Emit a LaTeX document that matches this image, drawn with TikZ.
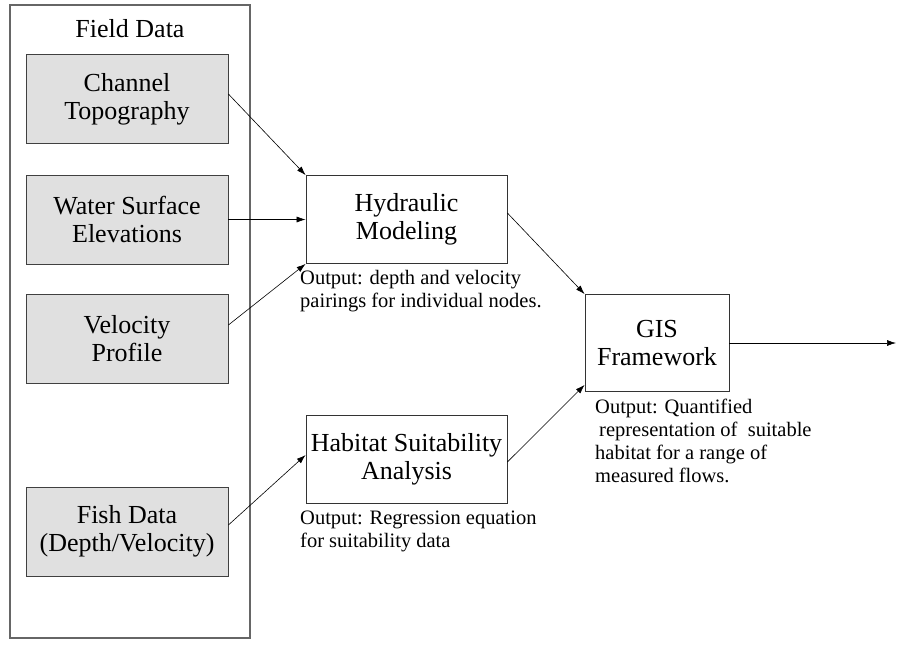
\documentclass[tikz,border=0pt]{standalone}
\usepackage{fontspec}
\setmainfont{Liberation Serif}
\usetikzlibrary{arrows.meta}
\tikzset{
  outerbox/.style={draw=black!60, line width=1.2pt, minimum width=240pt, minimum height=633pt, inner sep=0pt},
  databox/.style={draw=black!75, line width=0.8pt, fill=black!12, minimum width=202pt, minimum height=89pt, align=center, inner sep=0pt, font=\fontsize{26}{28}\selectfont},
  procbox/.style={draw=black!80, line width=0.8pt, fill=white, minimum width=201pt, minimum height=88pt, align=center, inner sep=0pt, font=\fontsize{26}{28}\selectfont},
  outtext/.style={anchor=north west, align=left, inner sep=0pt, font=\fontsize{20.5}{23}\selectfont},
  conn/.style={-{Latex[length=9pt,width=6pt]}, line width=0.6pt, black}
}
\begin{document}
\begin{tikzpicture}[x=1pt,y=-1pt]
\useasboundingbox (0,0) rectangle (899,645);
\node[outerbox] (outer) at (130,321.5) {};
\node[font=\fontsize{26}{28}\selectfont] (title) at (130,29) {Field Data};
\node[databox] (ch) at (127,99) {Channel\\Topography};
\node[databox] (wa) at (127,219.5) {Water Surface\\Elevations};
\node[databox] (ve) at (127,339) {Velocity\\Profile};
\node[databox] (fi) at (127,531.5) {Fish Data\\(Depth/Velocity)};
\node[procbox] (hy) at (406.5,219.5) {Hydraulic\\Modeling};
\node[procbox] (ha) at (406.5,459.5) {Habitat Suitability\\Analysis};
\node[procbox, minimum width=144pt, minimum height=97pt] (gi) at (657,343) {GIS\\Framework};
\coordinate (out) at (896,343);
\node[outtext] (hyo) at (300,270) {Output: depth and velocity\\pairings for individual nodes.};
\node[outtext] (hao) at (300,511) {Output: Regression equation\\for suitability data};
\node[outtext] (gio) at (595,399) {Output: Quantified\\\hspace*{4pt}representation of\ \ suitable\\habitat for a range of\\measured flows.};
\draw[conn] ([yshift=5pt]ch.east) -- (hy.north west);
\draw[conn] (wa.east) -- (hy.west);
\draw[conn] ([yshift=14pt]ve.east) -- (hy.south west);
\draw[conn] ([yshift=6.5pt]fi.east) -- ([yshift=4.5pt]ha.west);
\draw[conn] ([yshift=6.5pt]hy.east) -- (gi.north west);
\draw[conn] ([yshift=-2.5pt]ha.east) -- ([yshift=7pt]gi.south west);
\draw[conn] (gi.east) -- (out);
\end{tikzpicture}
\end{document}
